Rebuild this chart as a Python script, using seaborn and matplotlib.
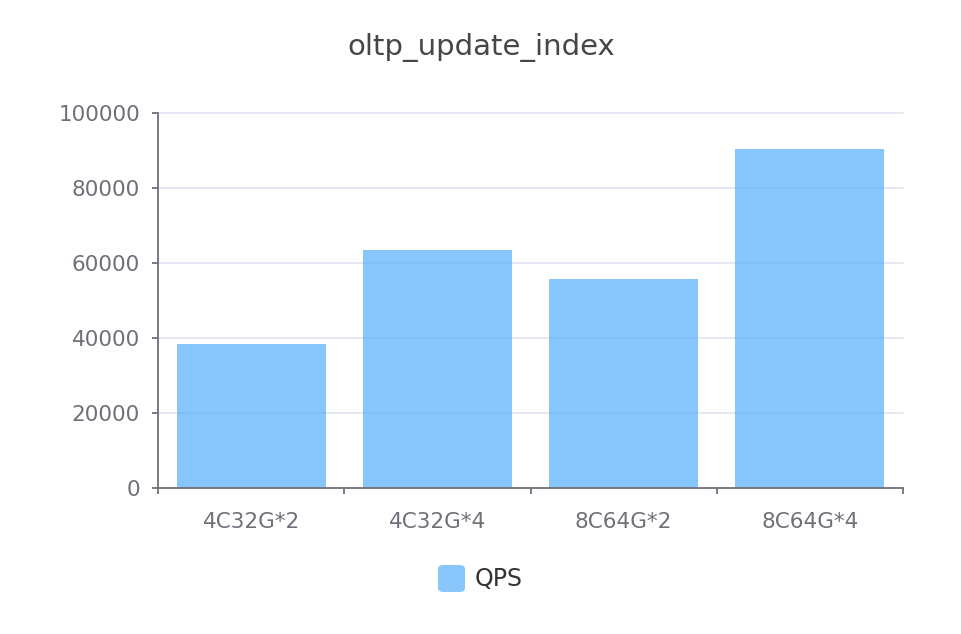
import matplotlib
matplotlib.use("Agg")
import matplotlib.pyplot as plt
import seaborn as sns
import pandas as pd
import numpy as np
from matplotlib.patches import FancyBboxPatch

categories = ["4C32G*2", "4C32G*4", "8C64G*2", "8C64G*4"]
qps = [38400, 63500, 55700, 90300]
series_name = "QPS"
title = "oltp_update_index"
y_ticks = [0, 20000, 40000, 60000, 80000, 100000]

sns.set_theme(style="white")
plt.rcParams['font.family'] = ['DejaVu Sans']

df = pd.DataFrame({"cat": categories, "val": qps})

fig = plt.figure(figsize=(9.62, 6.34), dpi=100)
ax = fig.add_axes([158/962, 1-488.3/634, (903-158)/962, (488.3-112.7)/634])

axis_c = "#6e7079"
bar_c = "#55aefb"
legend_c = "#88c6fc"

sns.barplot(data=df, x="cat", y="val", ax=ax, color=bar_c, width=0.8,
            saturation=1, edgecolor="none", alpha=0.7, zorder=2)

ax.set_xlim(-0.5, 3.5)
ax.set_ylim(0, 100000)
ax.set_yticks(y_ticks)
ax.set_yticklabels([str(v) for v in y_ticks])
for v in y_ticks[1:]:
    ax.axhline(v, color="#e0e6f1", lw=1.3, zorder=1, clip_on=False)

ax.set_xlabel("")
ax.set_ylabel("")
for s in ["top", "right"]:
    ax.spines[s].set_visible(False)
for s in ["left", "bottom"]:
    ax.spines[s].set_color(axis_c)
    ax.spines[s].set_linewidth(1.3)
    ax.spines[s].set_zorder(3)

ax.tick_params(axis="y", direction="out", length=4, width=1.3, color=axis_c,
               labelcolor=axis_c, labelsize=15.5, pad=9, left=True)
ax.tick_params(axis="x", which="major", length=0, labelcolor=axis_c,
               labelsize=15.5, pad=17, bottom=True)
ax.set_xticks(np.arange(-0.5, 4.0, 1.0), minor=True)
ax.tick_params(axis="x", which="minor", direction="out", length=4, width=1.3,
               color=axis_c, bottom=True)

fig.text(481/962, 1-48/634, title, ha="center", va="center", fontsize=21,
         color="#464646")

# legend
lx0, ly0, sz = 438, 565, 27
fig.patches.append(FancyBboxPatch((lx0/962, 1-(ly0+sz)/634), sz/962, sz/634,
                                  boxstyle="round,pad=0,rounding_size=0.006",
                                  transform=fig.transFigure, facecolor=legend_c,
                                  edgecolor="none"))
fig.text(475/962, 1-579/634, series_name, ha="left", va="center",
         fontsize=17, color="#333333")

fig.savefig("out.png", dpi=100)
